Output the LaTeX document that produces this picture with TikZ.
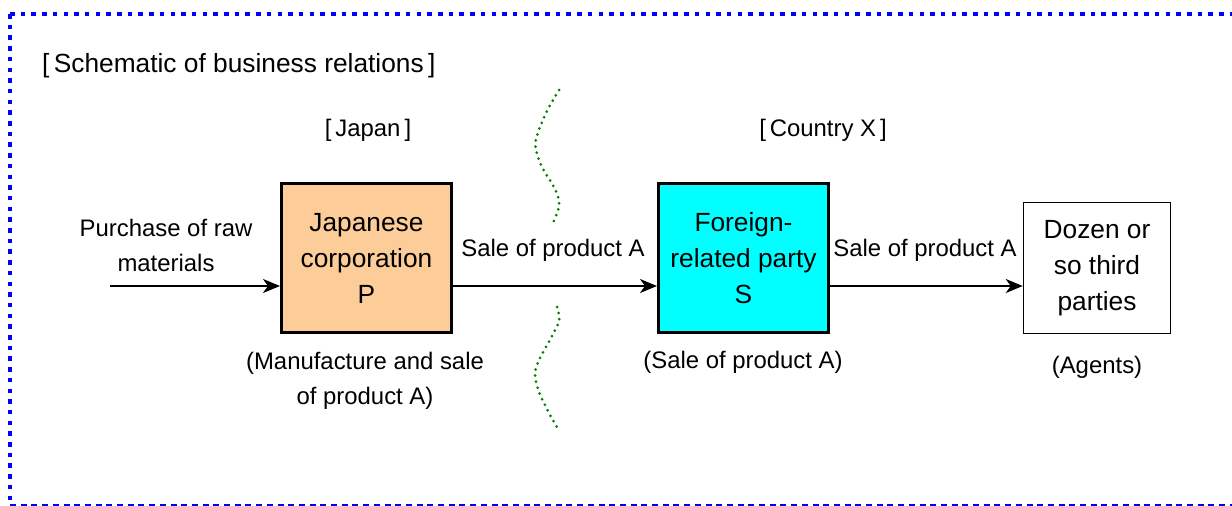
\documentclass[tikz,border=0pt]{standalone}
\usepackage{fontspec}
\setmainfont{Liberation Sans}
\usetikzlibrary{arrows.meta}
\definecolor{peach}{RGB}{252,204,153}
\definecolor{aqua}{RGB}{0,255,255}
\definecolor{frameblue}{RGB}{0,0,255}
\definecolor{dotgreen}{RGB}{0,128,0}
\tikzset{
  lbl/.style={font=\fontsize{23.9}{35}\selectfont, inner sep=0pt, align=center},
  boxtxt/.style={font=\fontsize{26.3}{36}\selectfont, align=center, inner sep=0pt},
  mainbox/.style={boxtxt, draw=black, line width=3pt, minimum width=170pt, minimum height=149pt},
  thirdbox/.style={boxtxt, draw=black, line width=1.5pt, minimum width=147pt, minimum height=131pt},
  flow/.style={line width=2pt, -{Stealth[length=17pt,width=14pt,inset=5pt]}},
  border/.style={frameblue, line width=4.5pt, dash pattern=on 4.5pt off 6.2pt},
  wavy/.style={dotgreen, line width=3pt, line cap=round, dash pattern=on 0pt off 6.2pt}
}
\begin{document}
\begin{tikzpicture}[x=1pt,y=-1pt]
\useasboundingbox (0,0) rectangle (1232,506);
% frame
\draw[border] (10,14) -- (1232,14);
\draw[border] (10,14) -- (10,500);
\draw[frameblue, line width=1.3pt, dash pattern=on 6pt off 4.7pt] (10,505) -- (1232,505);
% titles
\node[lbl, anchor=west, font=\fontsize{26.3}{30}\selectfont] (title) at (42,66) {[\,Schematic of business relations\,]};
\node[lbl] (japan) at (368,130) {[\,Japan\,]};
\node[lbl] (country) at (823,130) {[\,Country X\,]};
% boxes
\node[mainbox, fill=peach] (P) at (366.5,258) {Japanese\\corporation\\P};
\node[mainbox, fill=aqua] (S) at (743.5,258) {Foreign-\\related party\\S};
\node[thirdbox, fill=white] (T) at (1097,268) {Dozen or\\so third\\parties};
% connectors
\coordinate (in) at (110,286);
\draw[flow] (in) -- (in -| P.west);
\draw[flow] (P.east |- in) -- (S.west |- in);
\draw[flow] (S.east |- in) -- (T.west |- in);
% labels
\node[lbl] (raw) at (166,245) {Purchase of raw\\materials};
\node[lbl] (sale1) at (553,250) {Sale of product A};
\node[lbl] (sale2) at (925,250) {Sale of product A};
\node[lbl] (pdesc) at (365,381) {(Manufacture and sale\\of product A)};
\node[lbl] (sdesc) at (743,362) {(Sale of product A)};
\node[lbl] (tdesc) at (1097,367) {(Agents)};
% border lines between countries
\draw[wavy] plot[smooth] coordinates {(559,90) (546,113) (535.5,142) (541,165) (555,189) (559.3,205) (553,223)};
\draw[wavy] plot[smooth] coordinates {(557,307) (559.3,320) (552,336) (539,360) (535,374) (539,392) (549,413) (558,429)};
\end{tikzpicture}
\end{document}
